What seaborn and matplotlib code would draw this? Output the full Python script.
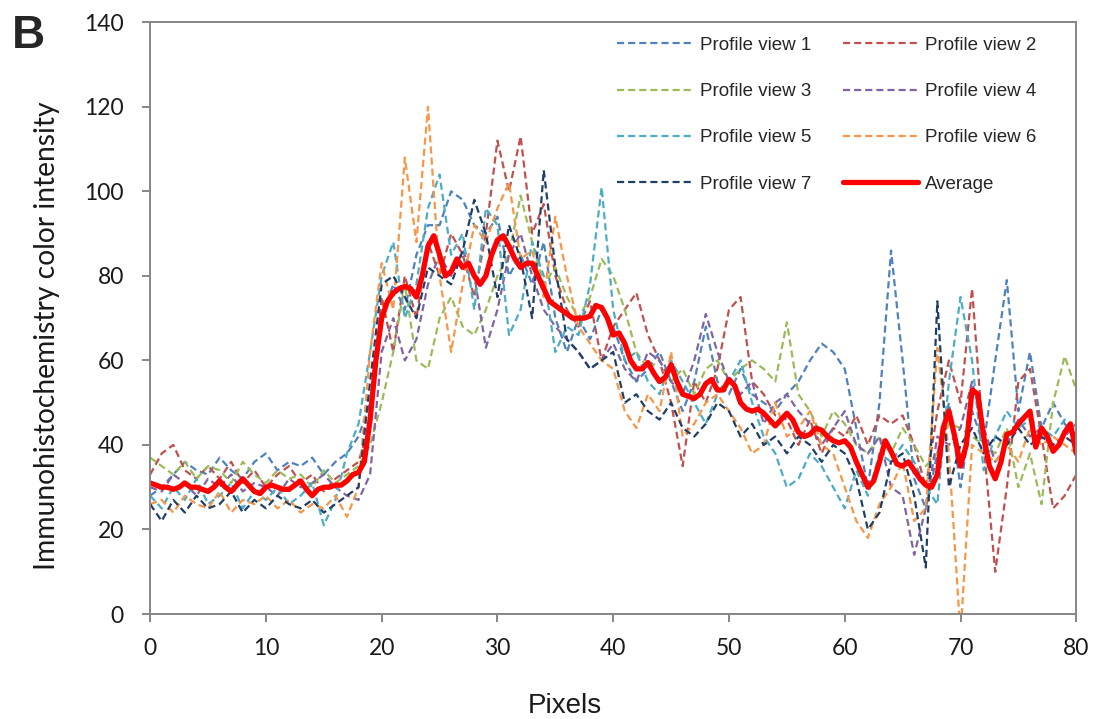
import numpy as np
import matplotlib
matplotlib.use("Agg")
import matplotlib.pyplot as plt
import seaborn as sns

# profile views sampled every pixel, 0..80
pixels = list(range(0, 81))

profile_1 = [28, 30, 33, 36, 34, 33, 37, 34, 32, 36, 38, 34, 36, 35, 37, 33, 36, 38, 42,
             50, 70, 78, 72, 85, 92, 92, 100, 98, 92, 90, 94, 80, 85, 78, 88, 70, 62, 70, 65, 72, 68,
             60, 55, 58, 62, 55, 48, 55, 68, 55, 52, 58, 52, 50, 48, 52, 55, 60, 64, 62, 58,
             44, 30, 50, 86, 60, 32, 25, 38, 50, 30, 48, 40, 60, 79, 48, 62, 44, 50, 45, 42]
profile_2 = [33, 38, 40, 34, 32, 35, 32, 36, 31, 34, 30, 33, 35, 31, 33, 29, 32, 34, 36,
             45, 75, 62, 80, 70, 88, 80, 90, 85, 75, 90, 112, 100, 113, 90, 97, 80, 72, 68, 74, 60, 68,
             72, 76, 66, 60, 50, 35, 55, 50, 58, 72, 75, 55, 52, 47, 46, 40, 46, 38, 44, 42,
             47, 40, 47, 45, 47, 40, 30, 48, 60, 50, 77, 40, 10, 30, 55, 58, 42, 25, 28, 33]
profile_3 = [37, 35, 33, 36, 32, 35, 34, 31, 36, 33, 31, 34, 32, 33, 30, 34, 31, 33, 35,
             40, 50, 62, 78, 60, 58, 70, 75, 68, 66, 72, 80, 85, 99, 88, 78, 82, 75, 70, 75, 84, 80,
             72, 62, 58, 60, 55, 58, 52, 58, 60, 55, 58, 60, 58, 55, 69, 52, 48, 42, 48, 45,
             40, 38, 42, 38, 44, 40, 35, 38, 45, 44, 42, 40, 38, 44, 30, 38, 26, 50, 61, 53]
profile_4 = [30, 29, 33, 31, 28, 32, 30, 33, 29, 31, 30, 28, 32, 30, 31, 33, 30, 28, 27,
             33, 62, 70, 60, 65, 78, 85, 80, 86, 80, 63, 72, 85, 90, 80, 72, 68, 65, 62, 58, 60, 64,
             58, 55, 62, 60, 55, 52, 60, 71, 62, 55, 52, 55, 45, 50, 52, 48, 45, 40, 44, 48,
             40, 38, 42, 30, 28, 14, 25, 42, 40, 44, 55, 44, 36, 40, 46, 42, 44, 40, 42, 45]
profile_5 = [28, 25, 30, 27, 32, 26, 28, 31, 25, 29, 27, 30, 26, 28, 31, 21, 27, 38, 45,
             62, 80, 88, 70, 78, 96, 104, 85, 90, 72, 96, 92, 66, 72, 88, 80, 62, 68, 66, 78, 101, 72,
             60, 62, 55, 52, 60, 55, 50, 45, 52, 55, 60, 50, 42, 38, 30, 32, 38, 35, 30, 25,
             34, 28, 38, 36, 40, 36, 30, 26, 55, 75, 60, 34, 42, 48, 44, 46, 44, 42, 46, 42]
profile_6 = [26, 27, 24, 28, 26, 25, 29, 24, 27, 26, 28, 25, 27, 24, 26, 25, 28, 23, 30,
             62, 83, 72, 108, 88, 120, 80, 62, 78, 92, 88, 96, 102, 84, 86, 75, 94, 80, 68, 64, 60, 58,
             48, 44, 52, 48, 62, 42, 45, 50, 52, 48, 44, 38, 40, 50, 42, 44, 48, 40, 38, 30,
             22, 18, 26, 30, 36, 22, 25, 63, 38, -5, 40, 38, 36, 40, 36, 44, 40, 42, 40, 38]
profile_7 = [26, 22, 27, 24, 28, 25, 26, 29, 24, 27, 25, 28, 26, 25, 27, 24, 26, 28, 30,
             55, 78, 80, 75, 70, 82, 80, 78, 86, 98, 90, 75, 92, 84, 70, 105, 82, 65, 62, 58, 60, 62,
             50, 52, 48, 46, 50, 44, 42, 45, 50, 48, 42, 45, 40, 42, 38, 42, 40, 36, 40, 38,
             32, 20, 24, 36, 38, 28, 11, 74, 30, 40, 44, 38, 42, 40, 44, 40, 42, 40, 42, 40]

# average sampled every half pixel
avg_pixels = np.arange(0, 80.5, 0.5)
average = [31, 30.5, 30, 30, 29.5, 30, 31, 30, 30, 29.5,
           29, 30, 31.5, 30, 29, 30.5, 32, 30.5, 29, 28.5,
           30, 30.5, 30, 29.5, 29.5, 30.5, 31.5, 29.5, 28, 29.5,
           30, 30, 30.5, 30.5, 31.5, 33, 33.5, 36, 46, 60,
           70, 74, 76, 77, 77.5, 77, 75, 80, 87, 89.5,
           85, 80, 81, 84, 82, 83, 80, 78, 80, 85,
           88.5, 89.5, 87, 84, 82, 83, 83, 80, 77, 74,
           73, 72, 71, 70, 70, 70, 70.5, 73, 72.5, 70,
           66, 66.5, 64, 60, 58, 58, 59.5, 57, 55, 56,
           59, 55, 52, 51.5, 51, 52, 54.5, 55.5, 53, 53,
           55.5, 54, 50, 48.5, 48, 48.5, 47.5, 46, 44.5, 46,
           47.5, 46, 43, 42, 42.5, 44, 43.5, 42, 41, 40.5,
           41, 39.5, 36, 33, 30, 31.5, 36, 41, 38.5, 35.5,
           35, 36, 34, 32, 30.5, 30, 33, 44, 48, 42,
           35, 40, 53, 52, 42, 35, 32, 36, 42.5, 43,
           45, 46.5, 48, 39.5, 44, 42, 38.5, 40, 43, 45,
           38]

profile_names = ['Profile view 1', 'Profile view 2', 'Profile view 3', 'Profile view 4',
                 'Profile view 5', 'Profile view 6', 'Profile view 7']
profile_colors = ['#4F81BD', '#C0504D', '#9BBB59', '#8064A2', '#4BACC6', '#F79646', '#1F3F66']
profiles = [profile_1, profile_2, profile_3, profile_4, profile_5, profile_6, profile_7]

sns.set_theme(style="white")
plt.rcParams['font.family'] = ['Lato', 'DejaVu Sans']
arial = ['Liberation Sans', 'DejaVu Sans']

fig = plt.figure(figsize=(10.96, 7.19), dpi=100)
ax = fig.add_axes([0.137, 0.146, 0.845, 0.823])

for name, vals, col in zip(profile_names, profiles, profile_colors):
    sns.lineplot(x=pixels, y=vals, ax=ax, color=col, linewidth=1.6,
                 linestyle=(0, (3.2, 1.8)), label=name)
sns.lineplot(x=avg_pixels, y=average, ax=ax, color='#FF0000', linewidth=3.8,
             label='Average')

ax.set_xlim(0, 80)
ax.set_ylim(0, 140)
ax.set_xticks(range(0, 81, 10))
ax.set_yticks(range(0, 141, 20))

grey = '#868686'
for sp in ax.spines.values():
    sp.set_color(grey)
    sp.set_linewidth(1.4)
ax.tick_params(bottom=True, left=True, direction='out', length=6, width=1.4,
               color=grey, labelsize=16.5, labelcolor='#1a1a1a')
ax.tick_params(axis='y', pad=13)
ax.tick_params(axis='x', pad=11)

ax.set_xlabel('Pixels', fontsize=20, color='#1a1a1a', family=arial)
ax.set_ylabel('Immunohistochemistry color intensity', fontsize=20.3, color='#1a1a1a')
ax.xaxis.label.set_va('baseline')
ax.yaxis.label.set_va('baseline')
ax.xaxis.set_label_coords(0.448, -0.167)
ax.yaxis.set_label_coords(-0.1026, 0.47)

# legend laid out row by row like the original
handles, labels = ax.get_legend_handles_labels()
order = [0, 2, 4, 6, 1, 3, 5, 7]
ax.legend([handles[i] for i in order], [labels[i] for i in order],
          ncol=2, frameon=False, loc='upper left', bbox_to_anchor=(0.496, 0.988),
          borderaxespad=0, handlelength=4.0, handletextpad=0.4,
          labelspacing=1.55, columnspacing=1.7,
          prop={'family': arial, 'size': 13.5})

fig.text(12 / 1096, 1 - 48 / 719, 'B', fontsize=33, fontweight='bold',
         family=arial, va='baseline', ha='left')

fig.savefig('out.png', dpi=100)
